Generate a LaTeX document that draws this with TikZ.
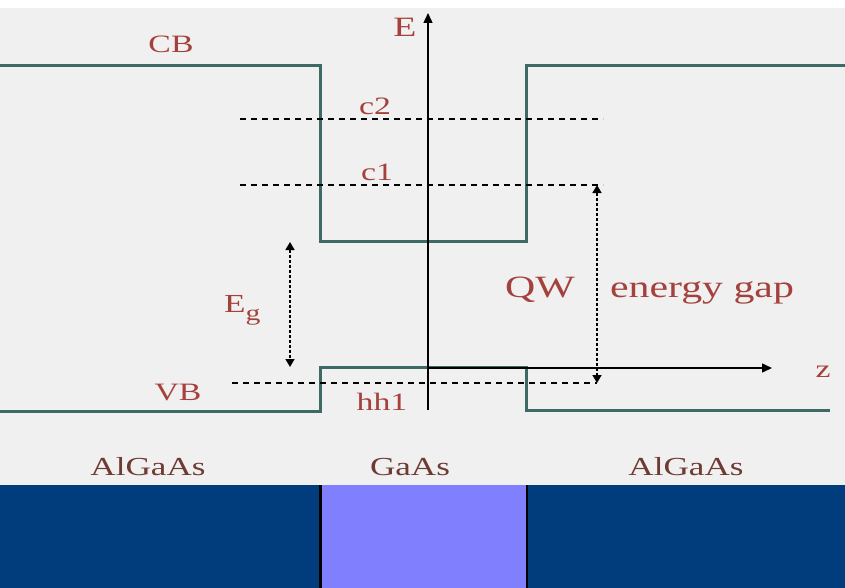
\documentclass[tikz,border=0pt]{standalone}
\usepackage{fontspec}
\setmainfont{Liberation Serif}
\usetikzlibrary{arrows.meta}
\definecolor{bg}{RGB}{240,240,240}
\definecolor{band}{RGB}{62,106,102}
\definecolor{lbl}{RGB}{165,65,60}
\definecolor{lbldark}{RGB}{110,58,50}
\definecolor{deepblue}{RGB}{1,61,125}
\definecolor{wellblue}{RGB}{128,128,255}
\newcommand{\wtext}[1]{\scalebox{1.35}[1]{#1}}
\tikzset{
  bandline/.style={band, line width=3pt, line join=miter},
  level/.style={black, line width=1.1pt, dash pattern=on 6pt off 5pt},
  axis/.style={black, line width=1.4pt, -{Triangle[width=9pt,length=10pt]}},
  gaparrow/.style={black, line width=1.6pt, dash pattern=on 3pt off 2pt,
    {Triangle[width=9pt,length=8pt]}-{Triangle[width=9pt,length=8pt]}},
  lab/.style={text=lbl, anchor=base, inner sep=0pt, font=\fontsize{25}{25}\selectfont},
  biglab/.style={text=lbl, anchor=base, inner sep=0pt, font=\fontsize{31}{31}\selectfont},
  matlab/.style={text=lbldark, anchor=base, inner sep=0pt, font=\fontsize{26}{26}\selectfont}
}
\begin{document}
\begin{tikzpicture}[x=1pt,y=-1pt]
\useasboundingbox (0,0) rectangle (845,588);
\fill[white] (0,0) rectangle (845,8);
\fill[bg] (0,8) rectangle (845,485);
% bottom material bar
\fill[deepblue] (0,485) rectangle (845,588);
\fill[wellblue] (320,485) rectangle (527,588);
\draw[black, line width=3pt] (320,485) -- (320,588);
\draw[black, line width=2pt] (527,485) -- (527,588);
% bands
\draw[bandline] (0,66) -- (320,66) -- (320,241) -- (526,241) -- (526,66) -- (845,66);
\draw[bandline] (0,411) -- (320,411) -- (320,367) -- (526,367) -- (526,410) -- (830,410);
% energy levels
\coordinate (c2l) at (240,119); \coordinate (c2r) at (603,119);
\coordinate (c1l) at (240,185); \coordinate (c1r) at (603,185);
\coordinate (hhl) at (232,383); \coordinate (hhr) at (597,383);
\draw[level] (c2l) -- (c2r);
\draw[level] (c1l) -- (c1r);
\draw[level] (hhl) -- (hhr);
% axes
\coordinate (Ebot) at (428,410); \coordinate (Etop) at (428,13);
\coordinate (zl) at (428,368); \coordinate (zr) at (772,368);
\draw[axis] (Ebot) -- (Etop);
\draw[axis] (zl) -- (zr);
% gap arrows
\coordinate (egt) at (290,242); \coordinate (egb) at (290,367);
\draw[gaparrow] (egt) -- (egb);
\coordinate (qwt) at (597,185); \coordinate (qwb) at (597,383);
\draw[gaparrow] (qwt) -- (qwb);
% labels
\node[lab] (CB) at (171,53) {\wtext{CB}};
\node[lab] (VB) at (178,400) {\wtext{VB}};
\node[lab, font=\fontsize{28}{28}\selectfont] (E) at (405,37) {\wtext{E}};
\node[lab] (z) at (823,377) {\wtext{z}};
\node[lab] (c2) at (375,115) {\wtext{c2}};
\node[lab] (c1) at (377,180) {\wtext{c1}};
\node[lab] (hh1) at (382,410) {\wtext{hh1}};
\node[lab, anchor=base west, font=\fontsize{26}{26}\selectfont] (Eg) at (224,312)
  {\wtext{E\raisebox{-8pt}{\fontsize{22}{22}\selectfont g}}};
\node[biglab] (QW) at (540,297) {\wtext{QW}};
\node[biglab] (gap) at (702,297) {\wtext{energy gap}};
\node[matlab] (m1) at (148,475) {\wtext{AlGaAs}};
\node[matlab] (m2) at (410,475) {\wtext{GaAs}};
\node[matlab] (m3) at (686,475) {\wtext{AlGaAs}};
\end{tikzpicture}
\end{document}
